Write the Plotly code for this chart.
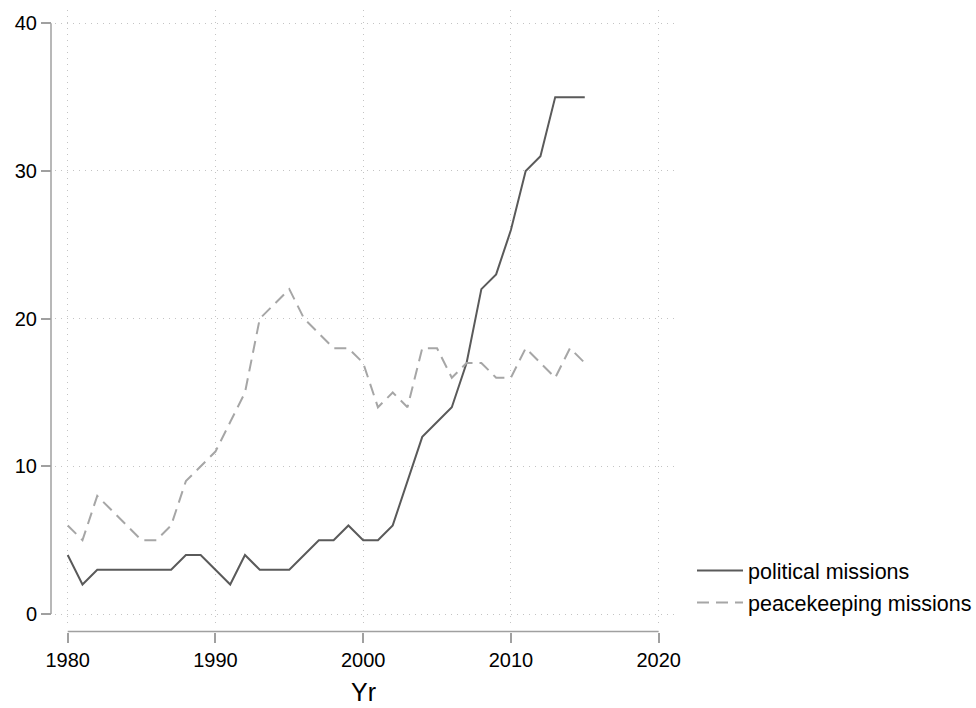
import plotly.graph_objects as go

# Annual counts of UN missions
years = list(range(1980, 2016))
political = [4, 2, 3, 3, 3, 3, 3, 3, 4, 4, 3, 2, 4, 3, 3, 3, 4, 5, 5, 6,
             5, 5, 6, 9, 12, 13, 14, 17, 22, 23, 26, 30, 31, 35, 35, 35]
peacekeeping = [6, 5, 8, 7, 6, 5, 5, 6, 9, 10, 11, 13, 15, 20, 21, 22, 20, 19, 18, 18,
                17, 14, 15, 14, 18, 18, 16, 17, 17, 16, 16, 18, 17, 16, 18, 17]

x_ticks = [1980, 1990, 2000, 2010, 2020]
y_ticks = [0, 10, 20, 30, 40]

AXIS_GRAY = "#a0a0a0"
GRID_GRAY = "#c4c4c4"
FONT = "Liberation Sans, Arial, sans-serif"

fig = go.Figure()
fig.add_trace(go.Scatter(
    x=years, y=political, mode="lines", name="political missions",
    line=dict(color="#5a5a5a", width=2), legendgroup="a",
))
fig.add_trace(go.Scatter(
    x=years, y=peacekeeping, mode="lines", name="peacekeeping missions",
    line=dict(color="#a6a6a6", width=2, dash="12px,7px"), legendgroup="b",
))

W, H = 976, 708
ml, mr, mt, mb = 30, 302, 10, 50
pw, ph = W - ml - mr, H - mt - mb

def px_x(p):
    return (p - ml) / pw

def px_y(p):
    return (H - mb - p) / ph

x_pos = px_y(631.5)   # offset x-axis line
y_pos = px_x(51)      # offset y-axis line

fig.update_layout(
    width=W, height=H,
    margin=dict(l=ml, r=mr, t=mt, b=mb, autoexpand=False),
    paper_bgcolor="white", plot_bgcolor="white",
    font=dict(family=FONT, color="black"),
    showlegend=True,
    legend=dict(
        x=px_x(692), y=px_y(550), xanchor="left", yanchor="top",
        font=dict(size=21.5, family=FONT, color="black"),
        tracegroupgap=1, traceorder="grouped",
        bgcolor="rgba(0,0,0,0)", itemwidth=46,
    ),
    xaxis=dict(
        range=[1979.14, 2021.04], domain=[px_x(55), 1],
        anchor="free", position=x_pos,
        tickvals=x_ticks, ticks="outside", ticklen=10, tickwidth=1.5,
        tickcolor=AXIS_GRAY, tickfont=dict(size=20, family=FONT, color="black"),
        showline=False, zeroline=False,
        showgrid=True, gridcolor=GRID_GRAY, gridwidth=1, griddash="1px,5px",
    ),
    yaxis=dict(
        range=[-0.81, 40.9], domain=[px_y(626), 1],
        anchor="free", position=y_pos,
        tickvals=y_ticks, ticks="outside", ticklen=10, tickwidth=1.5,
        tickcolor=AXIS_GRAY, tickfont=dict(size=20, family=FONT, color="black"),
        showline=False, zeroline=False,
        showgrid=True, gridcolor=GRID_GRAY, gridwidth=1, griddash="1px,5px",
    ),
    shapes=[
        dict(type="line", xref="x", yref="paper", x0=x_ticks[0], x1=x_ticks[-1],
             y0=x_pos, y1=x_pos, line=dict(color=AXIS_GRAY, width=1.5)),
        dict(type="line", xref="paper", yref="y", x0=y_pos, x1=y_pos,
             y0=y_ticks[0], y1=y_ticks[-1], line=dict(color=AXIS_GRAY, width=1.5)),
    ],
    annotations=[
        dict(text="Yr", xref="x", yref="paper", x=2000, y=px_y(692),
             xanchor="center", yanchor="middle", showarrow=False,
             font=dict(size=25, family=FONT, color="black")),
    ],
)

fig.write_html("out.html")
